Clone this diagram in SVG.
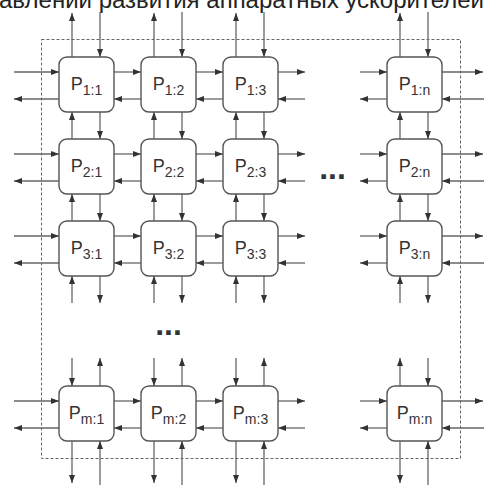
<svg xmlns="http://www.w3.org/2000/svg" width="484" height="485" viewBox="0 0 484 485">
<style>
.bg{fill:#fff}
.box rect{fill:#fff;stroke:#555;stroke-width:1.4}
.lbl{font-family:"Liberation Sans",Arial,sans-serif;fill:#333;font-size:18px}
.sub{font-size:14px}
.c line{stroke:#666;stroke-width:1.3;marker-end:url(#ah)}
.frame{fill:none;stroke:#666;stroke-width:1;stroke-dasharray:3 2}
.dots{font-family:"Liberation Sans",Arial,sans-serif;font-weight:bold;font-size:32px;fill:#333}
.title{font-family:"Liberation Sans",Arial,sans-serif;font-size:24px;fill:#222}
</style>
<defs>
<marker id="ah" markerUnits="userSpaceOnUse" markerWidth="8" markerHeight="6" refX="8" refY="3" orient="auto">
<path d="M0,0 L8,3 L0,6 z" fill="#333"/>
</marker>
</defs>
<rect class="bg" x="0" y="0" width="484" height="485"/>
<text class="title" x="-1" y="7.5">авлений развития аппаратных ускорителей</text>
<rect class="frame" x="41.5" y="39.5" width="419" height="419"/>
<g class="c" id="connectors">
<!-- row 1 horizontal -->
<line x1="14" y1="72" x2="59" y2="72"/><line x1="114" y1="72" x2="141" y2="72"/><line x1="196" y1="72" x2="223" y2="72"/><line x1="278" y1="72" x2="305" y2="72"/><line x1="360" y1="72" x2="387" y2="72"/><line x1="442" y1="72" x2="483" y2="72"/>
<line x1="59" y1="99" x2="14" y2="99"/><line x1="141" y1="99" x2="114" y2="99"/><line x1="223" y1="99" x2="196" y2="99"/><line x1="305" y1="99" x2="278" y2="99"/><line x1="387" y1="99" x2="360" y2="99"/><line x1="484" y1="99" x2="442" y2="99"/>
<!-- row 2 horizontal -->
<line x1="14" y1="154" x2="59" y2="154"/><line x1="114" y1="154" x2="141" y2="154"/><line x1="196" y1="154" x2="223" y2="154"/><line x1="278" y1="154" x2="305" y2="154"/><line x1="360" y1="154" x2="387" y2="154"/><line x1="442" y1="154" x2="483" y2="154"/>
<line x1="59" y1="181" x2="14" y2="181"/><line x1="141" y1="181" x2="114" y2="181"/><line x1="223" y1="181" x2="196" y2="181"/><line x1="305" y1="181" x2="278" y2="181"/><line x1="387" y1="181" x2="360" y2="181"/><line x1="484" y1="181" x2="442" y2="181"/>
<!-- row 3 horizontal -->
<line x1="14" y1="236" x2="59" y2="236"/><line x1="114" y1="236" x2="141" y2="236"/><line x1="196" y1="236" x2="223" y2="236"/><line x1="278" y1="236" x2="305" y2="236"/><line x1="360" y1="236" x2="387" y2="236"/><line x1="442" y1="236" x2="483" y2="236"/>
<line x1="59" y1="263" x2="14" y2="263"/><line x1="141" y1="263" x2="114" y2="263"/><line x1="223" y1="263" x2="196" y2="263"/><line x1="305" y1="263" x2="278" y2="263"/><line x1="387" y1="263" x2="360" y2="263"/><line x1="484" y1="263" x2="442" y2="263"/>
<!-- row m horizontal -->
<line x1="14" y1="401" x2="59" y2="401"/><line x1="114" y1="401" x2="141" y2="401"/><line x1="196" y1="401" x2="223" y2="401"/><line x1="278" y1="401" x2="305" y2="401"/><line x1="360" y1="401" x2="387" y2="401"/><line x1="442" y1="401" x2="483" y2="401"/>
<line x1="59" y1="428" x2="14" y2="428"/><line x1="141" y1="428" x2="114" y2="428"/><line x1="223" y1="428" x2="196" y2="428"/><line x1="305" y1="428" x2="278" y2="428"/><line x1="387" y1="428" x2="360" y2="428"/><line x1="484" y1="428" x2="442" y2="428"/>
<!-- verticals col 1 -->
<line x1="72" y1="57" x2="72" y2="13"/><line x1="100" y1="12" x2="100" y2="57"/>
<line x1="72" y1="139" x2="72" y2="112"/><line x1="100" y1="112" x2="100" y2="139"/>
<line x1="72" y1="221" x2="72" y2="194"/><line x1="100" y1="194" x2="100" y2="221"/>
<line x1="72" y1="303" x2="72" y2="276"/><line x1="100" y1="276" x2="100" y2="303"/>
<line x1="72" y1="358" x2="72" y2="386"/><line x1="100" y1="386" x2="100" y2="358"/>
<line x1="72" y1="441" x2="72" y2="483"/><line x1="100" y1="485" x2="100" y2="441"/>
<!-- verticals col 2 -->
<line x1="154" y1="57" x2="154" y2="13"/><line x1="182" y1="12" x2="182" y2="57"/>
<line x1="154" y1="139" x2="154" y2="112"/><line x1="182" y1="112" x2="182" y2="139"/>
<line x1="154" y1="221" x2="154" y2="194"/><line x1="182" y1="194" x2="182" y2="221"/>
<line x1="154" y1="303" x2="154" y2="276"/><line x1="182" y1="276" x2="182" y2="303"/>
<line x1="154" y1="358" x2="154" y2="386"/><line x1="182" y1="386" x2="182" y2="358"/>
<line x1="154" y1="441" x2="154" y2="483"/><line x1="182" y1="485" x2="182" y2="441"/>
<!-- verticals col 3 -->
<line x1="236" y1="57" x2="236" y2="13"/><line x1="264" y1="12" x2="264" y2="57"/>
<line x1="236" y1="139" x2="236" y2="112"/><line x1="264" y1="112" x2="264" y2="139"/>
<line x1="236" y1="221" x2="236" y2="194"/><line x1="264" y1="194" x2="264" y2="221"/>
<line x1="236" y1="303" x2="236" y2="276"/><line x1="264" y1="276" x2="264" y2="303"/>
<line x1="236" y1="358" x2="236" y2="386"/><line x1="264" y1="386" x2="264" y2="358"/>
<line x1="236" y1="441" x2="236" y2="483"/><line x1="264" y1="485" x2="264" y2="441"/>
<!-- verticals col n -->
<line x1="400" y1="57" x2="400" y2="13"/><line x1="428" y1="12" x2="428" y2="57"/>
<line x1="400" y1="139" x2="400" y2="112"/><line x1="428" y1="112" x2="428" y2="139"/>
<line x1="400" y1="221" x2="400" y2="194"/><line x1="428" y1="194" x2="428" y2="221"/>
<line x1="400" y1="303" x2="400" y2="276"/><line x1="428" y1="276" x2="428" y2="303"/>
<line x1="400" y1="386" x2="400" y2="358"/><line x1="428" y1="358" x2="428" y2="386"/>
<line x1="400" y1="441" x2="400" y2="483"/><line x1="428" y1="485" x2="428" y2="441"/>
</g>
<g id="P11" class="box"><rect x="59" y="57" width="55" height="55" rx="8"/><text class="lbl" x="86.5" y="90" text-anchor="middle">P<tspan class="sub" dy="5">1:1</tspan></text></g>
<g id="P12" class="box"><rect x="141" y="57" width="55" height="55" rx="8"/><text class="lbl" x="168.5" y="90" text-anchor="middle">P<tspan class="sub" dy="5">1:2</tspan></text></g>
<g id="P13" class="box"><rect x="223" y="57" width="55" height="55" rx="8"/><text class="lbl" x="250.5" y="90" text-anchor="middle">P<tspan class="sub" dy="5">1:3</tspan></text></g>
<g id="P1n" class="box"><rect x="387" y="57" width="55" height="55" rx="8"/><text class="lbl" x="414.5" y="90" text-anchor="middle">P<tspan class="sub" dy="5">1:n</tspan></text></g>
<g id="P21" class="box"><rect x="59" y="139" width="55" height="55" rx="8"/><text class="lbl" x="86.5" y="172" text-anchor="middle">P<tspan class="sub" dy="5">2:1</tspan></text></g>
<g id="P22" class="box"><rect x="141" y="139" width="55" height="55" rx="8"/><text class="lbl" x="168.5" y="172" text-anchor="middle">P<tspan class="sub" dy="5">2:2</tspan></text></g>
<g id="P23" class="box"><rect x="223" y="139" width="55" height="55" rx="8"/><text class="lbl" x="250.5" y="172" text-anchor="middle">P<tspan class="sub" dy="5">2:3</tspan></text></g>
<g id="P2n" class="box"><rect x="387" y="139" width="55" height="55" rx="8"/><text class="lbl" x="414.5" y="172" text-anchor="middle">P<tspan class="sub" dy="5">2:n</tspan></text></g>
<g id="P31" class="box"><rect x="59" y="221" width="55" height="55" rx="8"/><text class="lbl" x="86.5" y="254" text-anchor="middle">P<tspan class="sub" dy="5">3:1</tspan></text></g>
<g id="P32" class="box"><rect x="141" y="221" width="55" height="55" rx="8"/><text class="lbl" x="168.5" y="254" text-anchor="middle">P<tspan class="sub" dy="5">3:2</tspan></text></g>
<g id="P33" class="box"><rect x="223" y="221" width="55" height="55" rx="8"/><text class="lbl" x="250.5" y="254" text-anchor="middle">P<tspan class="sub" dy="5">3:3</tspan></text></g>
<g id="P3n" class="box"><rect x="387" y="221" width="55" height="55" rx="8"/><text class="lbl" x="414.5" y="254" text-anchor="middle">P<tspan class="sub" dy="5">3:n</tspan></text></g>
<g id="Pm1" class="box"><rect x="59" y="386" width="55" height="55" rx="8"/><text class="lbl" x="86.5" y="419" text-anchor="middle">P<tspan class="sub" dy="5">m:1</tspan></text></g>
<g id="Pm2" class="box"><rect x="141" y="386" width="55" height="55" rx="8"/><text class="lbl" x="168.5" y="419" text-anchor="middle">P<tspan class="sub" dy="5">m:2</tspan></text></g>
<g id="Pm3" class="box"><rect x="223" y="386" width="55" height="55" rx="8"/><text class="lbl" x="250.5" y="419" text-anchor="middle">P<tspan class="sub" dy="5">m:3</tspan></text></g>
<g id="Pmn" class="box"><rect x="387" y="386" width="55" height="55" rx="8"/><text class="lbl" x="414.5" y="419" text-anchor="middle">P<tspan class="sub" dy="5">m:n</tspan></text></g>
<text class="dots" x="332.5" y="179" text-anchor="middle">...</text>
<text class="dots" x="168.5" y="334.5" text-anchor="middle">...</text>
</svg>
